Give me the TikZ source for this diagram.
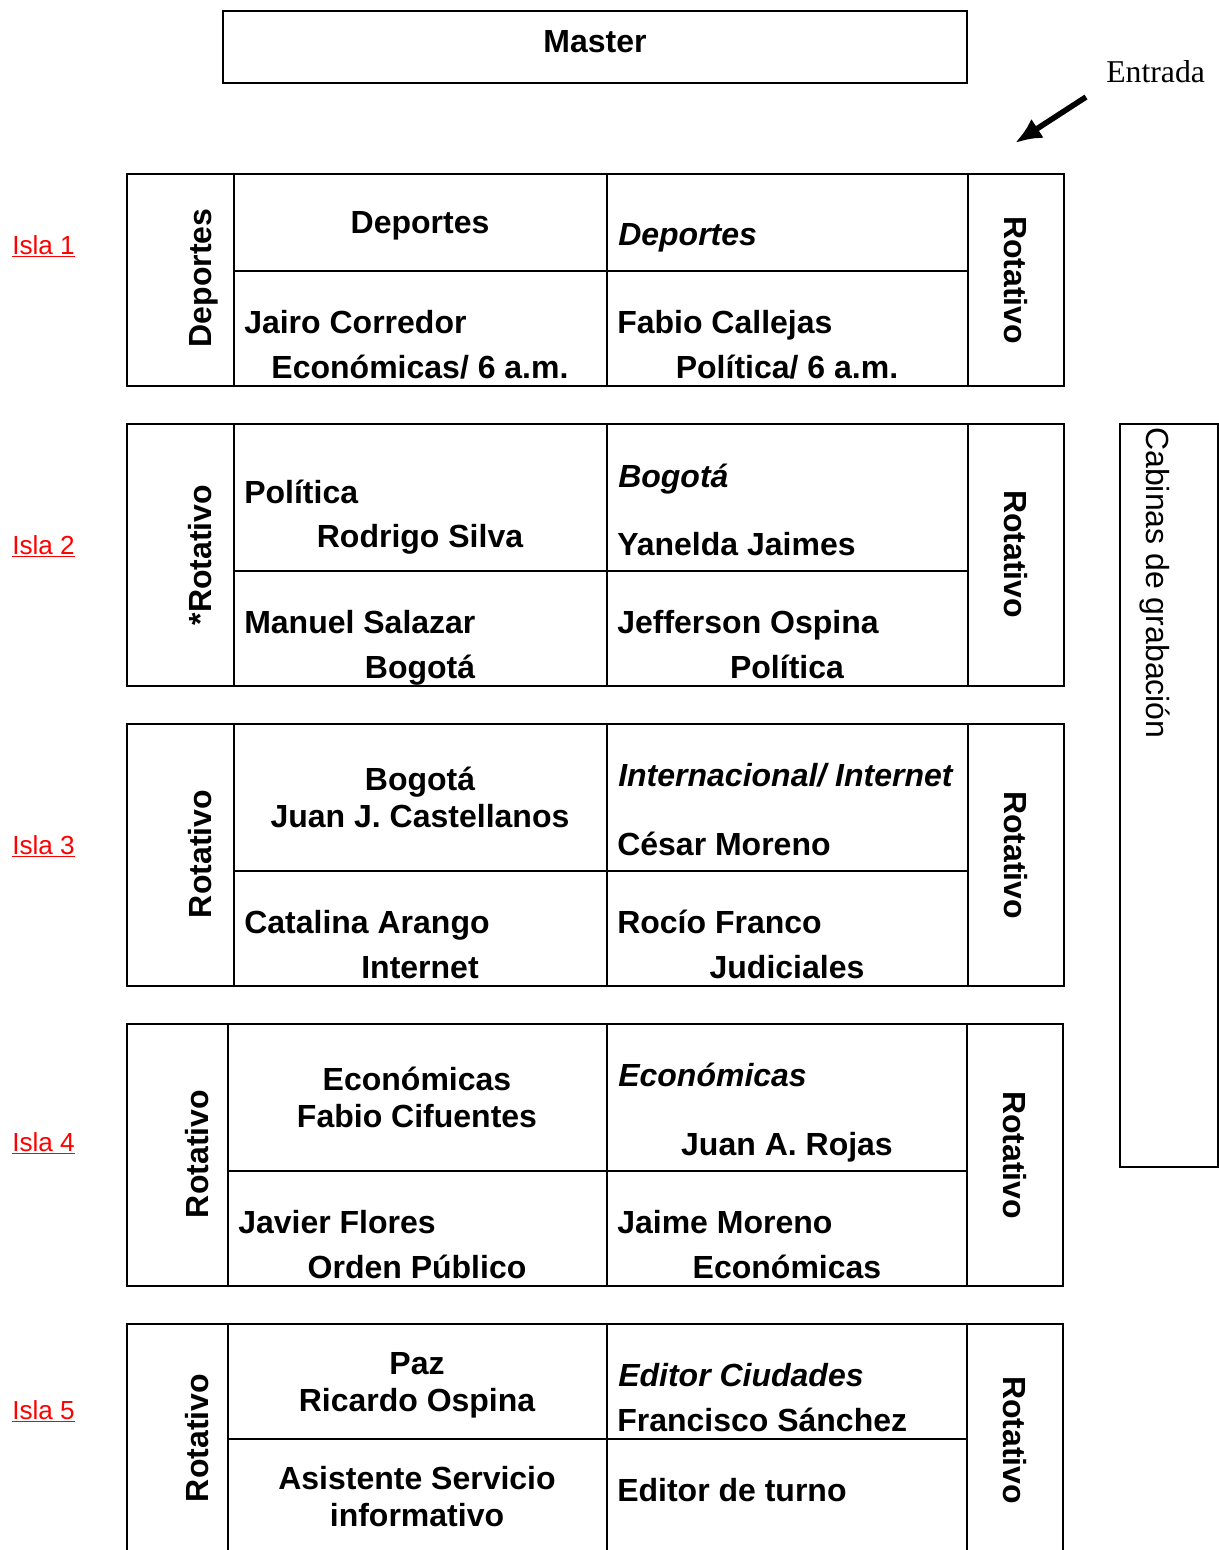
\documentclass[tikz,border=0pt]{standalone}
\usepackage{fontspec}
\setmainfont{Liberation Sans}
\newfontfamily\entfont{Liberation Serif}
\usetikzlibrary{arrows.meta}

\begin{document}
\begin{tikzpicture}[
    x=0.75pt, y=-0.75pt,
    frame/.style={line width=1.5pt},
    lbl/.style={font=\fontsize{24}{28}\selectfont\bfseries, inner sep=0pt, anchor=base},
    lblw/.style={lbl, anchor=base west},
    lblit/.style={lblw, font=\fontsize{24}{28}\selectfont\bfseries\itshape},
    vertl/.style={lbl, rotate=90},
    vertr/.style={lbl, rotate=-90},
    isla/.style={font=\fontsize{19.6}{22}\selectfont, text=red, inner sep=0pt, anchor=base west},
    arrow/.style={-{Latex[length=20pt,width=17pt]}, line width=4.2pt}
]
\useasboundingbox (0,0) rectangle (1219,1550);

% Frames
\draw[frame] (223,11) rectangle (967,83);
\draw[frame] (1120,424) rectangle (1218,1167);
\foreach \ya/\ym/\yb/\xl/\xr/\xo in {174/271/386/234/968/1064, 424/571/686/234/968/1064,
    724/871/986/234/968/1064, 1024/1171/1286/228/967/1063}{
  \draw[frame] (127,\ya) rectangle (\xo,\yb);
  \draw[frame] (\xl,\ya) -- (\xl,\yb) (607,\ya) -- (607,\yb) (\xr,\ya) -- (\xr,\yb) (\xl,\ym) -- (\xr,\ym);
}
\draw[frame] (127,1550) -- (127,1324) -- (1063,1324) -- (1063,1550);
\draw[frame] (228,1324) -- (228,1550) (607,1324) -- (607,1550) (967,1324) -- (967,1550) (228,1439) -- (967,1439);

% Top
\node[lbl] (master) at (595,52) {Master};
\node[anchor=base west, inner sep=0pt, font=\entfont\fontsize{23.8}{27}\selectfont] (entrada) at (1106,82) {Entrada};
\coordinate (entTail) at (1086,97);
\coordinate (entTip) at (1015,143);
\draw[arrow] (entTail) -- (entTip);
\node[rotate=-90, anchor=west, inner sep=0pt, font=\fontsize{24}{28}\selectfont] (cabinas) at (1155,427) {Cabinas de grabación};

% Isla labels
\node[isla] (isla1) at (12,254) {\underline{Isla 1}};
\node[isla] (isla2) at (12,554) {\underline{Isla 2}};
\node[isla] (isla3) at (12,854) {\underline{Isla 3}};
\node[isla] (isla4) at (12,1151) {\underline{Isla 4}};
\node[isla] (isla5) at (12,1419) {\underline{Isla 5}};

% Isla 1
\node[vertl] (l1) at (211,278) {Deportes};
\node[vertr] (r1) at (1004,280) {Rotativo};
\node[lbl] (a1) at (420,233) {Deportes};
\node[lblit] (b1) at (618,245) {Deportes};
\node[lblw] (c1) at (244,333) {Jairo Corredor};
\node[lbl] (c1b) at (420,378) {Económicas/ 6 a.m.};
\node[lblw] (d1) at (617,333) {Fabio Callejas};
\node[lbl] (d1b) at (787,378) {Política/ 6 a.m.};

% Isla 2
\node[vertl] (l2) at (211,555) {*Rotativo};
\node[vertr] (r2) at (1004,554) {Rotativo};
\node[lblw] (a2) at (244,503) {Política};
\node[lbl] (a2b) at (420,547) {Rodrigo Silva};
\node[lblit] (b2) at (618,487) {Bogotá};
\node[lblw] (b2b) at (617,555) {Yanelda Jaimes};
\node[lblw] (c2) at (244,633) {Manuel Salazar};
\node[lbl] (c2b) at (420,678) {Bogotá};
\node[lblw] (d2) at (617,633) {Jefferson Ospina};
\node[lbl] (d2b) at (787,678) {Política};

% Isla 3
\node[vertl] (l3) at (211,854) {Rotativo};
\node[vertr] (r3) at (1004,855) {Rotativo};
\node[lbl] (a3) at (420,790) {Bogotá};
\node[lbl] (a3b) at (420,827) {Juan J. Castellanos};
\node[lblit] (b3) at (618,786) {Internacional/ Internet};
\node[lblw] (b3b) at (617,855) {César Moreno};
\node[lblw] (c3) at (244,933) {Catalina Arango};
\node[lbl] (c3b) at (420,978) {Internet};
\node[lblw] (d3) at (617,933) {Rocío Franco};
\node[lbl] (d3b) at (787,978) {Judiciales};

% Isla 4
\node[vertl] (l4) at (208,1154) {Rotativo};
\node[vertr] (r4) at (1003,1155) {Rotativo};
\node[lbl] (a4) at (417,1090) {Económicas};
\node[lbl] (a4b) at (417,1127) {Fabio Cifuentes};
\node[lblit] (b4) at (618,1086) {Económicas};
\node[lbl] (b4b) at (787,1155) {Juan A. Rojas};
\node[lblw] (c4) at (238,1233) {Javier Flores};
\node[lbl] (c4b) at (417,1278) {Orden Público};
\node[lblw] (d4) at (617,1233) {Jaime Moreno};
\node[lbl] (d4b) at (787,1278) {Económicas};

% Isla 5
\node[vertl] (l5) at (208,1438) {Rotativo};
\node[vertr] (r5) at (1003,1440) {Rotativo};
\node[lbl] (a5) at (417,1374) {Paz};
\node[lbl] (a5b) at (417,1411) {Ricardo Ospina};
\node[lblit] (b5) at (618,1386) {Editor Ciudades};
\node[lblw] (b5b) at (617,1431) {Francisco Sánchez};
\node[lbl] (c5) at (417,1489) {Asistente Servicio};
\node[lbl] (c5b) at (417,1526) {informativo};
\node[lblw] (d5) at (617,1501) {Editor de turno};
\end{tikzpicture}
\end{document}
